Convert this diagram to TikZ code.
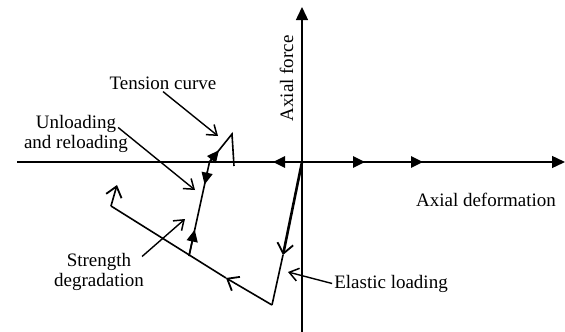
\documentclass[tikz,border=0pt]{standalone}
\usepackage{fontspec}
\setmainfont{Liberation Serif}
\usetikzlibrary{arrows.meta,calc}
\begin{document}
\begin{tikzpicture}[x=1pt,y=-1pt,
  axis/.style={line width=1.4pt},
  heavy/.style={line width=2.6pt},
  mid/.style={line width=1.6pt},
  barb/.style={-{Straight Barb[length=10pt,width=16pt,line width=1.8pt]}},
  tri/.style={-{Triangle[length=12pt,width=11pt]}},
  lab/.style={line width=1.4pt,-{Straight Barb[length=9pt,width=13pt,line width=1.5pt]}},
  txt/.style={font=\fontsize{19}{20}\selectfont, inner sep=0pt, align=center}]
\useasboundingbox (0,0) rectangle (565,332);
% points
\coordinate (O) at (302,162);
\coordinate (HL) at (17,162);
\coordinate (HR) at (565,162);
\coordinate (VB) at (302,332);
\coordinate (VT) at (302,7);
\coordinate (T1) at (273,162);
\coordinate (T2) at (365,162);
\coordinate (T3) at (423,162);
\coordinate (E1) at (283,255);
\coordinate (C1) at (272,305);
\coordinate (M1) at (226,278);
\coordinate (D1) at (111,206);
\coordinate (D2) at (117,185);
\coordinate (R0) at (189,256);
\coordinate (R1) at (209.5,162);
\coordinate (P) at (232,134);
\coordinate (Q) at (234,166);
% axes
\draw[axis,-{Triangle[length=13pt,width=12pt]}] (HL) -- (HR);
\draw[axis,-{Triangle[length=13pt,width=12pt]}] (VB) -- (VT);
% thick elastic path on axis
\draw[heavy,tri] (O) -- (T1);
\draw[heavy,tri] (O) -- (T2);
\draw[heavy,tri] (T2) -- (T3);
% elastic loading / compression branch
\draw[heavy,barb] (O) -- (E1);
\draw[mid] (E1) -- (C1);
\draw[mid,barb] (C1) -- (M1);
\draw[mid] (M1) -- (D1);
\draw[mid,barb] (D1) -- (D2);
% unloading / reloading branch
\draw[mid] (R0) -- (R1) -- (P) -- (Q);
\draw[mid,tri] (R0) -- ($(R0)!0.28!(R1)$);
\draw[mid,tri] ($(R0)!0.9!(R1)$) -- ($(R0)!0.76!(R1)$);
\draw[mid,tri] (R1) -- ($(R1)!0.42!(P)$);
% labels
\node[txt] (tension) at (163,83) {Tension curve};
\node[txt] (unload) at (76,133.5) {Unloading\\and reloading};
\node[txt] (strength) at (99,271.5) {Strength\\degradation};
\node[txt] (elastic) at (391,283.5) {Elastic loading};
\node[txt] (deform) at (486,200) {Axial deformation};
\node[txt,rotate=90] (force) at (286.5,78.5) {Axial force};
% label arrows
\coordinate (tcT) at (218,136);
\coordinate (ulT) at (195,190);
\coordinate (sdT) at (185,219);
\coordinate (elT) at (288,272);
\draw[lab] ([yshift=-2pt]tension.south) -- (tcT);
\draw[lab] ([shift={(-10,-6)}]unload.east) -- (ulT);
\draw[lab] ([shift={(-2,-15)}]strength.east) -- (sdT);
\draw[lab] ([xshift=-2pt]elastic.west) -- (elT);
\end{tikzpicture}
\end{document}
